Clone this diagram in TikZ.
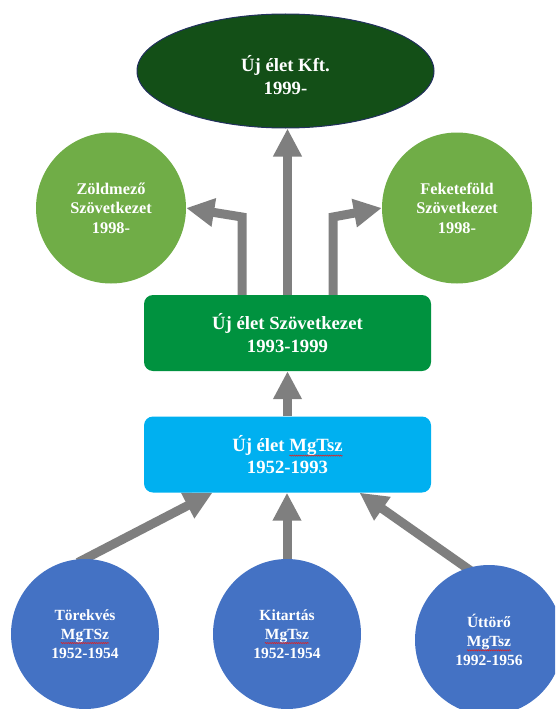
\documentclass[tikz,border=0pt]{standalone}
\usepackage{fontspec}
\setmainfont{Liberation Serif}
\usetikzlibrary{shapes.geometric,arrows.meta,decorations.pathmorphing,backgrounds}

\definecolor{kftgreen}{HTML}{134F17}
\definecolor{kftedge}{HTML}{22305E}
\definecolor{leafgreen}{HTML}{70AD47}
\definecolor{coopgreen}{HTML}{00923F}
\definecolor{tszblue}{HTML}{00B0F0}
\definecolor{founderblue}{HTML}{4472C4}
\definecolor{arrowgray}{HTML}{7F7F7F}
\definecolor{spellred}{HTML}{E02020}

% word with a red wavy spell-check underline
\tikzset{
  plainword/.style={rectangle, draw=none, fill=none, minimum width=0pt,
    minimum height=0pt, inner sep=0pt, outer sep=0pt, sharp corners,
    text=white, align=left},
  wavyline/.style={overlay, spellred, sharp corners, line width=0.55pt,
    decorate, decoration={snake, amplitude=0.6pt, segment length=2.2pt}},
}
\newcommand\spellmark[1]{\tikz[baseline=(sw.base)]{%
  \node[plainword](sw){#1};%
  \draw[wavyline] ([yshift=-0.3pt]sw.south west) -- ([yshift=-0.3pt]sw.south east);}}

\tikzset{
  lbl/.style={text=white, align=center, inner sep=0pt, font=\bfseries},
  boxtext/.style={lbl, font=\bfseries\fontsize{18.7}{22.5}\selectfont},
  kftnode/.style={ellipse, fill=kftgreen, draw=kftedge, line width=1pt,
    minimum width=297, minimum height=114},
  unitbox/.style={rectangle, rounded corners=9pt, minimum width=287,
    minimum height=76, boxtext},
  branch/.style={ellipse, fill=leafgreen, minimum width=150, minimum height=151,
    lbl, font=\bfseries\fontsize{16.3}{19.5}\selectfont},
  founder/.style={ellipse, fill=founderblue, minimum width=148, minimum height=150,
    lbl, font=\bfseries\fontsize{15.5}{19}\selectfont},
  bigarrow/.style={draw=arrowgray, line width=9pt, line join=miter,
    -{Triangle[width=27pt,length=28pt]}},
}

\begin{document}
\begin{tikzpicture}[x=1pt,y=-1pt]
\path[use as bounding box, clip] (0,0) rectangle (555,709);

% successor company
\node[kftnode] (kft) at (285.5,71) {};
\node[boxtext] (kfttext) at (285.5,75) {Új élet Kft.\\1999-};

% branch cooperatives
\node[branch] (zold) at (111,208) {Zöldmező\\Szövetkezet\\1998-};
\node[branch] (fek) at (457,208) {Feketeföld\\Szövetkezet\\1998-};

% main line of the cooperative
\node[unitbox, fill=coopgreen] (szov) at (287.5,333) {Új élet Szövetkezet\\1993-1999};
\node[unitbox, fill=tszblue] (mgtsz) at (287.5,454.5) {Új élet \spellmark{MgTsz}\\1952-1993};

% founding cooperatives
\node[founder] (tor) at (85,634) {Törekvés\\\spellmark{MgTSz}\\1952-1954};
\node[founder] (kit) at (287,634) {Kitartás\\\spellmark{MgTsz}\\1952-1954};
\node[founder] (utt) at (489,640) {Úttörő\\\spellmark{MgTsz}\\1992-1956};

% bends of the split arrows
\coordinate (zbend) at (242,217);
\coordinate (fbend) at (333,217);

\begin{pgfonlayer}{background}
  \draw[bigarrow] (szov.north) -- (szov.north |- kft.south);
  \draw[bigarrow] (szov.north -| zbend) -- (zbend) -- (zold.east);
  \draw[bigarrow] (szov.north -| fbend) -- (fbend) -- (fek.west);
  \draw[bigarrow] (mgtsz.north) -- (szov.south);
  \draw[bigarrow, shorten <=-8pt] (tor.north) -- ([xshift=-75pt]mgtsz.south);
  \draw[bigarrow] (kit.north) -- (kit.north |- mgtsz.south);
  \draw[bigarrow, shorten <=-8pt] (utt.107) -- ([xshift=72pt]mgtsz.south);
\end{pgfonlayer}
\end{tikzpicture}
\end{document}
